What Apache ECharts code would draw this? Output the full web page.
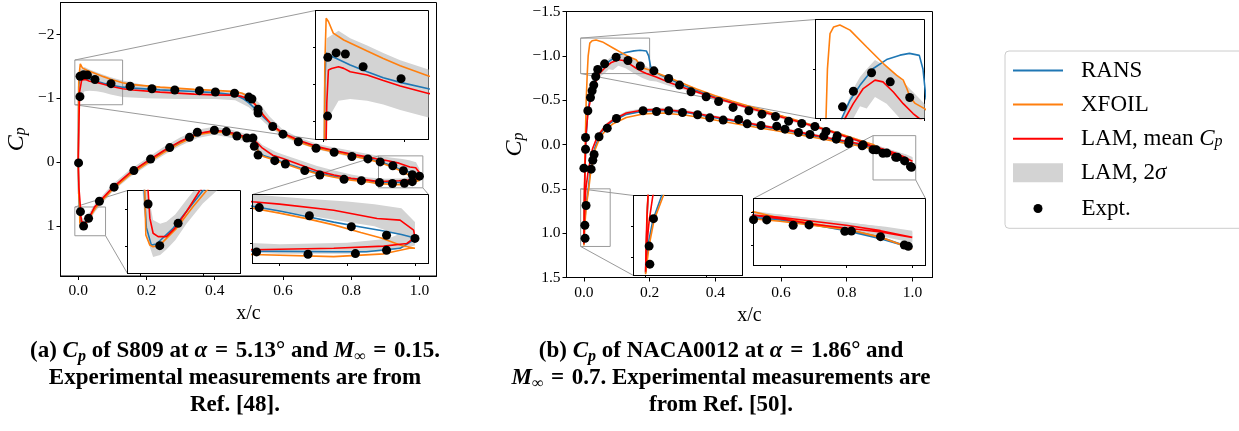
<!DOCTYPE html>
<html><head><meta charset="utf-8">
<script src="https://cdn.jsdelivr.net/npm/echarts@6/dist/echarts.min.js"></script>
<style>html,body{margin:0;padding:0;background:#fff}#c{width:1239px;height:431px}</style>
</head><body><div id="c"></div>
<script>
// ---------- tick values ----------
const xTicks = [0, 0.2, 0.4, 0.6, 0.8, 1.0];
const yTicksA = [-2, -1, 0, 1];
const yTicksB = [-1.5, -1.0, -0.5, 0, 0.5, 1.0, 1.5];

// ---------- (a) S809 : loops TE(upper) -> LE -> TE(lower), [x/c, Cp] ----------
const ransA = [[1.0,0.215],[0.99,0.19],[0.977,0.165],[0.96,0.135],[0.94,0.1],[0.92,0.06],[0.9,0.02],[0.88,-0.015],[0.85,-0.055],[0.8,-0.115],[0.75,-0.17],[0.7,-0.235],[0.65,-0.325],[0.6,-0.45],[0.57,-0.57],[0.54,-0.72],[0.52,-0.83],[0.5,-0.93],[0.485,-0.99],[0.47,-1.03],[0.45,-1.06],[0.4,-1.09],[0.34,-1.107],[0.24,-1.133],[0.16,-1.16],[0.13,-1.175],[0.095,-1.21],[0.074,-1.235],[0.054,-1.268],[0.033,-1.304],[0.016,-1.34],[0.006,-1.36],[0.003,-1.37],[0.0015,-1.2],[0.0008,-0.7],[0.0,0.0],[0.0015,0.5],[0.0033,0.7],[0.005,0.9],[0.009,0.996],[0.013,0.99],[0.0263,0.905],[0.0502,0.7],[0.065,0.61],[0.1,0.41],[0.15,0.18],[0.2,0.0],[0.25,-0.17],[0.3,-0.32],[0.35,-0.445],[0.4,-0.49],[0.43,-0.48],[0.46,-0.44],[0.49,-0.39],[0.51,-0.365],[0.52,-0.3],[0.53,-0.15],[0.545,-0.1],[0.57,-0.06],[0.6,0.0],[0.65,0.09],[0.7,0.165],[0.75,0.22],[0.8,0.26],[0.85,0.29],[0.88,0.31],[0.94,0.315],[0.964,0.315],[0.989,0.29],[0.999,0.23],[1.0,0.215]];
const xfoilA = [[1.0,0.29],[0.99,0.27],[0.975,0.215],[0.96,0.175],[0.94,0.12],[0.92,0.075],[0.9,0.035],[0.88,0.0],[0.85,-0.045],[0.8,-0.105],[0.75,-0.16],[0.7,-0.22],[0.65,-0.31],[0.6,-0.44],[0.58,-0.52],[0.56,-0.63],[0.54,-0.76],[0.525,-0.87],[0.51,-0.97],[0.495,-1.04],[0.48,-1.08],[0.46,-1.105],[0.4,-1.125],[0.34,-1.14],[0.24,-1.175],[0.16,-1.215],[0.13,-1.245],[0.095,-1.3],[0.074,-1.34],[0.054,-1.38],[0.025,-1.44],[0.012,-1.477],[0.006,-1.54],[0.0032,-1.558],[0.0015,-1.3],[0.0008,-0.7],[0.0,0.0],[0.0015,0.5],[0.0038,0.7],[0.0046,0.941],[0.0078,0.996],[0.0104,1.005],[0.0157,0.996],[0.029,0.905],[0.0423,0.787],[0.053,0.7],[0.068,0.61],[0.1,0.43],[0.15,0.2],[0.2,0.02],[0.25,-0.15],[0.3,-0.3],[0.35,-0.43],[0.4,-0.475],[0.43,-0.465],[0.46,-0.42],[0.49,-0.375],[0.51,-0.35],[0.52,-0.28],[0.53,-0.14],[0.545,-0.085],[0.57,-0.045],[0.6,0.015],[0.65,0.105],[0.7,0.18],[0.75,0.235],[0.8,0.28],[0.85,0.31],[0.88,0.335],[0.94,0.35],[0.977,0.33],[0.996,0.29],[1.0,0.29]];
const lamA = [[1.0,0.21],[0.999,0.158],[0.989,0.086],[0.972,0.074],[0.94,0.014],[0.9,-0.03],[0.88,-0.047],[0.85,-0.08],[0.8,-0.13],[0.75,-0.185],[0.7,-0.245],[0.65,-0.335],[0.6,-0.455],[0.57,-0.575],[0.545,-0.72],[0.525,-0.86],[0.51,-0.95],[0.495,-1.0],[0.475,-1.035],[0.45,-1.05],[0.4,-1.055],[0.34,-1.066],[0.24,-1.097],[0.16,-1.13],[0.13,-1.15],[0.095,-1.19],[0.074,-1.22],[0.054,-1.25],[0.033,-1.268],[0.025,-1.286],[0.0185,-1.295],[0.01,-1.285],[0.006,-1.277],[0.004,-1.1],[0.002,-0.6],[0.0,0.0],[0.002,0.4],[0.0064,0.7],[0.0078,0.85],[0.0104,0.932],[0.0144,0.95],[0.021,0.95],[0.0277,0.905],[0.037,0.814],[0.0476,0.7],[0.065,0.6],[0.1,0.4],[0.15,0.17],[0.2,-0.01],[0.25,-0.18],[0.3,-0.33],[0.35,-0.45],[0.4,-0.495],[0.43,-0.485],[0.46,-0.445],[0.49,-0.4],[0.51,-0.37],[0.525,-0.3],[0.54,-0.22],[0.57,-0.11],[0.6,-0.06],[0.65,0.04],[0.7,0.135],[0.75,0.2],[0.8,0.25],[0.85,0.28],[0.88,0.3],[0.94,0.29],[0.977,0.274],[0.994,0.255],[1.0,0.21]];
// LAM 2-sigma band per surface, [x/c, lower Cp bound, upper Cp bound]
const bandA_up = [[0.0,-0.5,0.5],[0.002,-1.3,-0.6],[0.004,-1.45,-1.0],[0.0185,-1.49,-1.11],[0.033,-1.45,-1.12],[0.054,-1.41,-1.11],[0.074,-1.37,-1.09],[0.095,-1.33,-1.06],[0.13,-1.28,-1.02],[0.2,-1.2,-1.0],[0.3,-1.15,-0.99],[0.4,-1.13,-0.99],[0.46,-1.12,-0.97],[0.5,-1.07,-0.86],[0.53,-0.93,-0.7],[0.56,-0.72,-0.55],[0.6,-0.51,-0.4],[0.65,-0.38,-0.29],[0.7,-0.29,-0.2],[0.75,-0.23,-0.14],[0.8,-0.18,-0.08],[0.85,-0.13,-0.03],[0.88,-0.1,0.0],[0.92,-0.07,0.05],[0.95,-0.05,0.1],[0.97,-0.03,0.13],[0.99,0.0,0.2],[1.0,0.1,0.26]];
const bandA_low = [[0.0,-0.3,0.5],[0.003,0.55,0.8],[0.006,0.7,0.97],[0.0104,0.86,1.06],[0.016,0.88,1.05],[0.021,0.87,1.02],[0.028,0.83,0.97],[0.037,0.75,0.88],[0.05,0.64,0.77],[0.1,0.35,0.46],[0.15,0.12,0.24],[0.2,-0.06,0.06],[0.25,-0.24,-0.11],[0.3,-0.39,-0.26],[0.35,-0.51,-0.38],[0.4,-0.56,-0.43],[0.45,-0.51,-0.38],[0.5,-0.43,-0.31],[0.52,-0.37,-0.2],[0.54,-0.27,-0.1],[0.58,-0.16,-0.04],[0.6,-0.12,0.0],[0.65,-0.03,0.1],[0.7,0.06,0.18],[0.75,0.13,0.24],[0.8,0.19,0.29],[0.85,0.24,0.31],[0.9,0.26,0.33],[0.95,0.25,0.33],[0.98,0.22,0.31],[1.0,0.14,0.27]];
const exptA_up = [[0.0053,-1.346],[0.0156,-1.37],[0.027,-1.364],[0.049,-1.295],[0.096,-1.23],[0.005,-1.027],[0.001,0.01],[0.152,-1.19],[0.216,-1.15],[0.283,-1.13],[0.355,-1.12],[0.402,-1.1],[0.458,-1.08],[0.5,-1.02],[0.509,-0.99],[0.527,-0.83],[0.527,-0.77],[0.57,-0.56],[0.6,-0.44],[0.645,-0.32],[0.697,-0.22],[0.75,-0.157],[0.802,-0.09],[0.849,-0.052],[0.885,-0.005],[0.922,0.054],[0.953,0.133],[0.979,0.195],[1.0,0.218]];
const exptA_low = [[0.0064,0.773],[0.0157,0.999],[0.0303,0.878],[0.062,0.61],[0.105,0.39],[0.163,0.13],[0.212,-0.05],[0.268,-0.23],[0.326,-0.39],[0.349,-0.47],[0.399,-0.5],[0.434,-0.48],[0.465,-0.41],[0.494,-0.38],[0.512,-0.38],[0.516,-0.25],[0.527,-0.114],[0.576,-0.025],[0.607,0.027],[0.664,0.13],[0.708,0.2],[0.779,0.267],[0.83,0.288],[0.883,0.316],[0.921,0.333],[0.956,0.328],[0.979,0.304]];

// ---------- (b) NACA0012 ----------
const ransB = [[1.0,0.27],[0.976,0.2],[0.95,0.14],[0.925,0.095],[0.9,0.055],[0.88,0.025],[0.85,-0.02],[0.8,-0.09],[0.75,-0.155],[0.7,-0.21],[0.65,-0.265],[0.6,-0.32],[0.55,-0.37],[0.5,-0.42],[0.45,-0.475],[0.4,-0.535],[0.35,-0.6],[0.3,-0.67],[0.258,-0.745],[0.23,-0.79],[0.21,-0.84],[0.203,-0.88],[0.197,-1.0],[0.19,-1.055],[0.171,-1.063],[0.1528,-1.056],[0.127,-1.038],[0.1014,-1.002],[0.0757,-0.934],[0.0565,-0.874],[0.0405,-0.8],[0.03,-0.7],[0.02,-0.56],[0.012,-0.38],[0.007,-0.1],[0.004,0.2],[0.0015,0.6],[0.0003,1.0],[0.0,1.13],[0.002,0.9],[0.006,0.7],[0.0133,0.5],[0.019,0.3],[0.032,0.05],[0.047,-0.1],[0.068,-0.21],[0.089,-0.265],[0.129,-0.34],[0.18,-0.375],[0.241,-0.385],[0.312,-0.36],[0.394,-0.305],[0.475,-0.25],[0.546,-0.2],[0.648,-0.135],[0.75,-0.06],[0.851,0.015],[0.9,0.06],[0.95,0.13],[0.976,0.19],[1.0,0.27]];
const xfoilB = [[1.0,0.275],[0.976,0.1875],[0.953,0.135],[0.925,0.0875],[0.9,0.045],[0.88,0.0],[0.85,-0.035],[0.8,-0.095],[0.75,-0.155],[0.7,-0.21],[0.65,-0.27],[0.6,-0.325],[0.55,-0.38],[0.5,-0.435],[0.45,-0.49],[0.4,-0.55],[0.343,-0.625],[0.3,-0.69],[0.258,-0.756],[0.22,-0.81],[0.2,-0.84],[0.182,-0.861],[0.172,-0.887],[0.166,-0.921],[0.159,-0.955],[0.146,-0.975],[0.1206,-1.022],[0.0887,-1.089],[0.0565,-1.157],[0.037,-1.178],[0.025,-1.17],[0.018,-1.143],[0.013,-1.0],[0.0102,-0.8],[0.007,-0.5],[0.004,0.0],[0.0015,0.6],[0.0003,1.0],[0.0,1.14],[0.003,0.9],[0.007,0.7],[0.0147,0.5],[0.021,0.3],[0.034,0.06],[0.049,-0.08],[0.068,-0.17],[0.089,-0.235],[0.129,-0.305],[0.18,-0.345],[0.241,-0.355],[0.312,-0.33],[0.394,-0.28],[0.475,-0.225],[0.546,-0.18],[0.648,-0.115],[0.75,-0.045],[0.851,0.025],[0.9,0.07],[0.953,0.135],[0.976,0.19],[1.0,0.275]];
const lamB = [[1.0,0.19],[0.976,0.15],[0.95,0.12],[0.925,0.0925],[0.9,0.05],[0.88,0.025],[0.85,-0.025],[0.8,-0.085],[0.75,-0.15],[0.7,-0.205],[0.65,-0.26],[0.6,-0.31],[0.55,-0.36],[0.5,-0.415],[0.45,-0.47],[0.4,-0.525],[0.35,-0.585],[0.3,-0.645],[0.26,-0.7],[0.22,-0.76],[0.19,-0.8],[0.178,-0.82],[0.159,-0.86],[0.14,-0.907],[0.12,-0.948],[0.1046,-0.955],[0.082,-0.921],[0.0628,-0.86],[0.0468,-0.8],[0.035,-0.7],[0.022,-0.55],[0.012,-0.35],[0.006,-0.1],[0.003,0.3],[0.001,0.7],[0.0002,1.0],[0.0,1.12],[0.001,0.9],[0.003,0.7],[0.006,0.5],[0.013,0.3],[0.026,0.05],[0.042,-0.1],[0.068,-0.22],[0.089,-0.28],[0.129,-0.355],[0.18,-0.39],[0.241,-0.395],[0.312,-0.37],[0.394,-0.315],[0.475,-0.26],[0.546,-0.21],[0.648,-0.145],[0.75,-0.07],[0.851,0.0],[0.9,0.04],[0.95,0.1],[0.976,0.14],[1.0,0.19]];
const bandB_up = [[0.0,1.08,1.15],[0.003,0.25,0.35],[0.012,-0.39,-0.31],[0.022,-0.58,-0.52],[0.035,-0.73,-0.67],[0.0468,-0.84,-0.76],[0.0628,-0.92,-0.8],[0.0757,-0.968,-0.85],[0.0887,-1.0,-0.84],[0.1046,-1.036,-0.887],[0.127,-1.009,-0.86],[0.1528,-0.962,-0.8],[0.178,-0.907,-0.75],[0.2,-0.86,-0.72],[0.22,-0.82,-0.71],[0.26,-0.74,-0.66],[0.3,-0.68,-0.62],[0.35,-0.61,-0.57],[0.45,-0.49,-0.45],[0.55,-0.38,-0.34],[0.65,-0.28,-0.24],[0.75,-0.17,-0.13],[0.85,-0.045,-0.005],[0.9,0.02,0.07],[0.95,0.08,0.14],[0.98,0.11,0.19],[1.0,0.14,0.23]];
const bandB_low = [[0.0,1.09,1.15],[0.003,0.68,0.72],[0.006,0.48,0.52],[0.013,0.28,0.32],[0.026,0.03,0.07],[0.042,-0.12,-0.08],[0.068,-0.24,-0.2],[0.089,-0.3,-0.26],[0.129,-0.375,-0.335],[0.18,-0.41,-0.37],[0.241,-0.415,-0.375],[0.312,-0.39,-0.35],[0.394,-0.33,-0.3],[0.475,-0.275,-0.245],[0.546,-0.225,-0.195],[0.648,-0.16,-0.13],[0.75,-0.085,-0.055],[0.851,-0.015,0.015],[0.9,0.02,0.06],[0.95,0.075,0.125],[0.976,0.11,0.17],[1.0,0.15,0.22]];
const exptB_up = [[0.0,0.267],[0.005,0.053],[0.005,-0.079],[0.012,-0.38],[0.02,-0.53],[0.025,-0.606],[0.03,-0.67],[0.036,-0.767],[0.042,-0.847],[0.063,-0.91],[0.098,-0.985],[0.134,-0.948],[0.1715,-0.885],[0.213,-0.831],[0.258,-0.745],[0.291,-0.67],[0.326,-0.594],[0.372,-0.538],[0.41,-0.485],[0.454,-0.418],[0.502,-0.38],[0.542,-0.342],[0.583,-0.316],[0.623,-0.263],[0.663,-0.237],[0.703,-0.203],[0.737,-0.147],[0.771,-0.098],[0.807,-0.041],[0.85,0.004],[0.88,0.058],[0.91,0.1],[0.949,0.145],[0.976,0.185],[0.994,0.247]];
const exptB_low = [[0.0065,0.688],[0.0029,0.911],[0.0035,1.058],[0.022,0.278],[0.027,0.177],[0.031,0.113],[0.046,-0.087],[0.071,-0.184],[0.099,-0.293],[0.18,-0.38],[0.221,-0.372],[0.258,-0.38],[0.3,-0.361],[0.346,-0.335],[0.383,-0.301],[0.424,-0.275],[0.471,-0.282],[0.497,-0.233],[0.539,-0.214],[0.587,-0.207],[0.612,-0.173],[0.653,-0.135],[0.688,-0.113],[0.73,-0.094],[0.768,-0.06],[0.806,-0.011],[0.847,0.015],[0.89,0.06],[0.922,0.097],[0.954,0.143],[0.997,0.257]];

// ---------- styling / layout ----------
const FONT = "'Liberation Serif', 'Times New Roman', Times, serif";
const C_RANS = '#1f77b4', C_XFOIL = '#ff7f0e', C_LAM = '#ff0000', C_BAND = '#d3d3d3', C_BOX = '#9a9a9a';
const N_RANS = 'RANS', N_XFOIL = 'XFOIL', N_LAM = 'LAM, mean Cp', N_BAND = 'LAM, 2σ', N_EXP = 'Expt.';
const minus = s => String(s).replace('-', '\u2212');

const panelA = {rans: ransA, xfoil: xfoilA, lam: lamA, bandUp: bandA_up, bandLow: bandA_low, expUp: exptA_up, expLow: exptA_low};
const panelB = {rans: ransB, xfoil: xfoilB, lam: lamB, bandUp: bandB_up, bandLow: bandB_low, expUp: exptB_up, expLow: exptB_low};

const grids = [
  {rect:{left:60.5, top:2.5, width:376, height:273.5}, x:[-0.052,1.05], y:[-2.5,1.78], xt:xTicks, yt:yTicksA, p:panelA, main:true, yfmt:v=>minus(v)},
  {rect:{left:315.5, top:10.5, width:113, height:129}, x:[-0.01,0.13], y:[-1.6,-0.9], xt:[0,0.1], yt:[-1.4,-1.2,-1.0], p:panelA, parent:0, conn:[['UL','UL'],['LL','LL']]},
  {rect:{left:127.5, top:190.5, width:113, height:83}, x:[-0.01,0.08], y:[0.7,1.15], xt:[0,0.05], yt:[0.8,1.0], p:panelA, parent:0, conn:[['UL','UL'],['LR','LL']]},
  {rect:{left:252.5, top:194.5, width:176, height:69}, x:[0.88,1.01], y:[-0.1,0.4], xt:[0.9,0.95,1.0], yt:[0,0.25], p:panelA, parent:0, conn:[['UL','UL'],['LR','UR']]},
  {rect:{left:566.5, top:11.5, width:366, height:266}, x:[-0.053,1.061], y:[-1.5,1.5], xt:xTicks, yt:yTicksB, p:panelB, main:true, yfmt:v=>minus(v.toFixed(1))},
  {rect:{left:815.5, top:19.5, width:109, height:99}, x:[-0.01,0.2], y:[-1.2,-0.8], xt:[0,0.2], yt:[-1.0], p:panelB, parent:4, conn:[['UL','UL'],['LL','LL']]},
  {rect:{left:633.5, top:195.5, width:109, height:80}, x:[-0.01,0.08], y:[0.5,1.15], xt:[0,0.05], yt:[0.75,1.0], p:panelB, parent:4, conn:[['UL','UL'],['LL','LL']]},
  {rect:{left:753.5, top:198.5, width:172, height:67}, x:[0.88,1.01], y:[-0.1,0.4], xt:[0.9,0.95,1.0], yt:[0,0.25], p:panelB, parent:4, conn:[['UL','UL'],['LR','UR']]}
];

const gridOpt = [], xAxes = [], yAxes = [], series = [];
grids.forEach((g, i) => {
  const zb = g.main ? 0 : 10;
  gridOpt.push(Object.assign({show:true, backgroundColor: g.main ? 'transparent' : '#fff', borderColor:'#000', borderWidth:1, containLabel:false, z: zb}, g.rect));
  const tickLen = g.main ? 4 : 2.5;
  xAxes.push({
    type:'value', gridIndex:i, min:g.x[0], max:g.x[1], z: zb + 4,
    axisLine:{show:true, onZero:false, lineStyle:{color:'#000', width:1}},
    axisTick:{show:true, length:tickLen, customValues:g.xt, lineStyle:{color:'#000', width:1}},
    axisLabel:{show:!!g.main, customValues:g.xt, formatter:v=>v.toFixed(1), fontFamily:FONT, fontSize:15.5, color:'#000', margin:7},
    splitLine:{show:false},
    name: g.main ? 'x/c' : '', nameLocation:'middle', nameGap:21,
    nameTextStyle:{fontFamily:FONT, fontSize:20, color:'#000'}
  });
  yAxes.push({
    type:'value', gridIndex:i, min:g.y[0], max:g.y[1], inverse:true, z: zb + 4,
    axisLine:{show:true, onZero:false, lineStyle:{color:'#000', width:1}},
    axisTick:{show:true, length:tickLen, customValues:g.yt, lineStyle:{color:'#000', width:1}},
    axisLabel:{show:!!g.main, customValues:g.yt, formatter:g.yfmt || (v=>v), fontFamily:FONT, fontSize:15.5, color:'#000', margin:6},
    splitLine:{show:false},
    name: g.main ? '{i|C}{s|p}' : '', nameLocation:'middle', nameRotate:90, nameGap: i === 0 ? 32 : 40,
    nameTextStyle:{fontFamily:FONT, fontSize:23, color:'#000', lineHeight:24,
      rich:{i:{fontFamily:FONT, fontStyle:'italic', fontSize:24, lineHeight:24, color:'#000'},
            s:{fontFamily:FONT, fontStyle:'italic', fontSize:16, lineHeight:12, verticalAlign:'bottom', color:'#000'}}}
  });
  const p = g.p;
  series.push({
    type:'custom', name:N_BAND, xAxisIndex:i, yAxisIndex:i, z: zb + 1, silent:true, clip:true,
    itemStyle:{color:C_BAND}, data:[[0]],
    renderItem:(params, api) => {
      const poly = b => b.map(r => api.coord([r[0], r[1]])).concat(b.slice().reverse().map(r => api.coord([r[0], r[2]])));
      const cs = params.coordSys;
      return {type:'group', children:[p.bandUp, p.bandLow].map(b => ({
        type:'polygon', shape:{points:poly(b)}, style:{fill:C_BAND, stroke:null},
        clipPath:{type:'rect', shape:{x:cs.x, y:cs.y, width:cs.width, height:cs.height}}
      }))};
    }
  });
  [[N_RANS, p.rans, C_RANS], [N_XFOIL, p.xfoil, C_XFOIL], [N_LAM, p.lam, C_LAM]].forEach(([n, d, c], k) => {
    series.push({type:'line', name:n, xAxisIndex:i, yAxisIndex:i, data:d, symbol:'none', showSymbol:false,
      color:c, lineStyle:{color:c, width:1.6}, itemStyle:{color:c}, z: zb + 2, z2:k, clip:true, silent:true, animation:false});
  });
  series.push({type:'scatter', name:N_EXP, xAxisIndex:i, yAxisIndex:i, data:p.expUp.concat(p.expLow),
    symbol:'circle', symbolSize:9, itemStyle:{color:'#000', opacity:1}, z: zb + 3, clip:true, silent:true});
});

const LINE_ICON = 'path://M0,0L50,0L50,2L0,2Z';
const RECT_ICON = 'path://M0,0L50,0L50,19L0,19Z';
const legendText = (padLeft) => ({fontFamily:FONT, fontSize:23, color:'#000', lineHeight:22, padding:[0,0,0,padLeft],
  rich:{t:{fontFamily:FONT, fontSize:23, lineHeight:22, color:'#000'},
        i:{fontFamily:FONT, fontSize:23, lineHeight:22, fontStyle:'italic', color:'#000'},
        s:{fontFamily:FONT, fontSize:16, lineHeight:13, fontStyle:'italic', color:'#000', verticalAlign:'bottom'}}});
const legendFmt = n => n === N_LAM ? '{t|LAM, mean }{i|C}{s|p}' : (n === N_BAND ? '{t|LAM, 2}{i|σ}' : n);

const capStyle = {fontFamily:FONT, fontWeight:'bold', fontSize:23, lineHeight:27, color:'#000',
  rich:{i:{fontFamily:FONT, fontWeight:'bold', fontStyle:'italic', fontSize:23, lineHeight:27, color:'#000'},
        s:{fontFamily:FONT, fontWeight:'bold', fontStyle:'italic', fontSize:16, lineHeight:19, verticalAlign:'bottom', color:'#000'},
        r:{fontFamily:FONT, fontWeight:'bold', fontSize:16, lineHeight:19, verticalAlign:'bottom', color:'#000'}}};

const option = {
  animation:false,
  backgroundColor:'#fff',
  title:[
    {text:'(a) {i|C}{s|p} of S809 at {i|α}\u2004=\u20045.13° and {i|M}{r|∞}\u2004=\u20040.15.\nExperimental measurements are from\nRef. [48].',
     left:235, top:338, textAlign:'center', padding:0, textStyle:capStyle},
    {text:'(b) {i|C}{s|p} of NACA0012 at {i|α}\u2004=\u20041.86° and\n{i|M}{r|∞}\u2004=\u20040.7. Experimental measurements are\nfrom Ref. [50].',
     left:721, top:338, textAlign:'center', padding:0, textStyle:capStyle}
  ],
  legend:[
    {orient:'vertical', left:1005, top:51, itemWidth:50, itemHeight:22, itemGap:11.1, selectedMode:false,
     padding:[8,120,44,8], borderColor:'#cccccc', borderWidth:1, borderRadius:4, backgroundColor:'#fff',
     data:[{name:N_RANS, icon:LINE_ICON},{name:N_XFOIL, icon:LINE_ICON},{name:N_LAM, icon:LINE_ICON},{name:N_BAND, icon:RECT_ICON}],
     textStyle:legendText(13), formatter:legendFmt},
    {orient:'vertical', left:1033.5, top:197, itemWidth:9, itemHeight:22, selectedMode:false, padding:0,
     data:[{name:N_EXP, icon:'circle'}], textStyle:legendText(34), formatter:legendFmt}
  ],
  grid:gridOpt, xAxis:xAxes, yAxis:yAxes, series:series
};

const chart = echarts.init(document.getElementById('c'), null, {renderer:'canvas'});
chart.setOption(option);

// zoom-box rectangles and connector lines, positioned through the axes
const gfx = [];
grids.forEach((g, i) => {
  if (g.parent === undefined) return;
  const corner = {UL:[g.x[0], g.y[0]], UR:[g.x[1], g.y[0]], LL:[g.x[0], g.y[1]], LR:[g.x[1], g.y[1]]};
  const a = chart.convertToPixel({gridIndex:g.parent}, corner.UL);
  const b = chart.convertToPixel({gridIndex:g.parent}, corner.LR);
  gfx.push({type:'rect', z:1, silent:true, shape:{x:a[0], y:a[1], width:b[0]-a[0], height:b[1]-a[1]},
            style:{fill:null, stroke:C_BOX, lineWidth:1}});
  g.conn.forEach(([cb, ci]) => {
    const p1 = chart.convertToPixel({gridIndex:g.parent}, corner[cb]);
    const p2 = chart.convertToPixel({gridIndex:i}, corner[ci]);
    gfx.push({type:'line', z:1, silent:true, shape:{x1:p1[0], y1:p1[1], x2:p2[0], y2:p2[1]},
              style:{stroke:C_BOX, lineWidth:1}});
  });
});
chart.setOption({graphic:gfx});
</script>
</body></html>
